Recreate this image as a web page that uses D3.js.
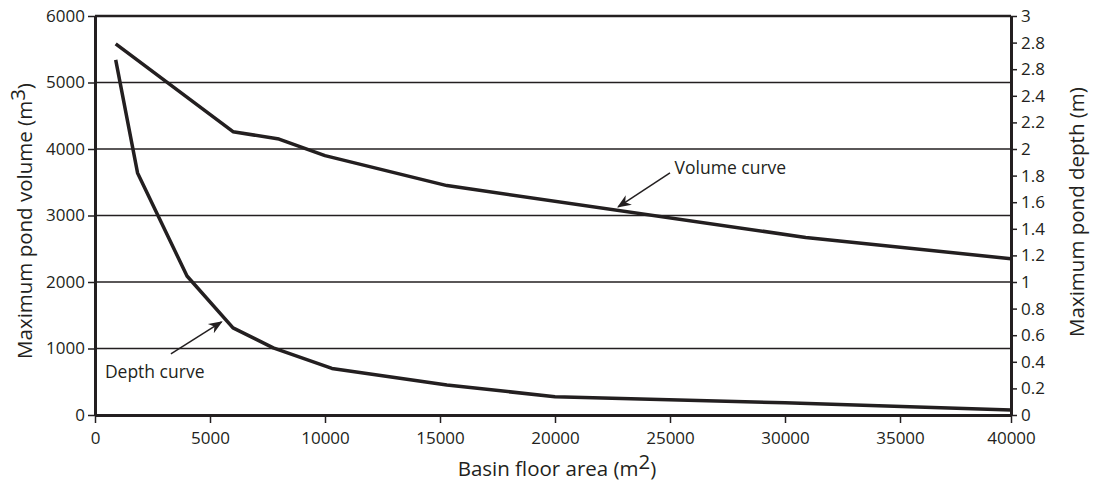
<!DOCTYPE html>
<html><head><meta charset="utf-8">
<script src="https://cdn.jsdelivr.net/npm/d3@7"></script>
<style>
body{margin:0;background:#fff}
svg{display:block}
text{font-family:"Open Sans",sans-serif;fill:#231f20}
</style>
</head><body>
<svg id="chart" width="1096" height="483"></svg>
<script>
// ---- data ----
const volumeArea = [900, 6000, 8000, 10000, 15300, 30900, 40000];
const volumeValues = [5580, 4260, 4150, 3900, 3450, 2670, 2350];
const depthArea = [900, 1850, 4000, 6000, 7750, 10300, 15300, 20000, 30000, 40000];
const depthValues = [2.67, 1.82, 1.045, 0.655, 0.505, 0.35, 0.225, 0.138, 0.092, 0.038];
const xTicks = [0, 5000, 10000, 15000, 20000, 25000, 30000, 35000, 40000];
const volumeTicks = [0, 1000, 2000, 3000, 4000, 5000, 6000];
const depthTicks = [0, 0.2, 0.4, 0.6, 0.8, 1, 1.2, 1.4, 1.6, 1.8, 2, 2.2, 2.4, 2.6, 2.8, 3];
const depthTickLabels = ["0","0.2","0.4","0.6","0.8","1","1.2","1.4","1.6","1.8","2","2.2","2.4","2.8","2.8","3"];
const gridValues = [1000, 2000, 3000, 4000, 5000];

const ink = "#231f20";
const svg = d3.select("#chart");
const L = 95, R = 1011, T = 16, B = 415;

const x = d3.scaleLinear().domain([0, 35000, 40000]).range([L, 900, R]);
const yV = d3.scaleLinear().domain([0, 6000]).range([B, T]);
const yD = d3.scaleLinear().domain([0, 3]).range([B, T]);

// markers
svg.append("defs").append("marker")
  .attr("id", "arr").attr("viewBox", "0 0 10 10").attr("refX", 9).attr("refY", 5)
  .attr("markerWidth", 14).attr("markerHeight", 14).attr("markerUnits", "userSpaceOnUse")
  .attr("orient", "auto")
  .append("path").attr("d", "M0,1 L10,5 L0,9 L3,5 Z").attr("fill", ink);

// gridlines
svg.append("g").selectAll("line").data(gridValues).join("line")
  .attr("x1", L).attr("x2", R).attr("y1", d => yV(d)).attr("y2", d => yV(d))
  .attr("stroke", ink).attr("stroke-width", 1.5);

// top frame line
svg.append("line").attr("x1", L).attr("x2", R).attr("y1", T).attr("y2", T)
  .attr("stroke", ink).attr("stroke-width", 2.5);

function styleAxis(g) {
  g.select(".domain").attr("stroke", ink).attr("stroke-width", 3);
  g.selectAll(".tick line").attr("stroke", ink).attr("stroke-width", 1.5);
  g.selectAll(".tick text").attr("fill", ink).style("font-size", "17px")
    .style("font-family", "'Open Sans', sans-serif");
}

svg.append("g").attr("transform", `translate(${L},0)`)
  .call(d3.axisLeft(yV).tickValues(volumeTicks).tickSize(7).tickSizeOuter(0).tickPadding(3)
    .tickFormat(d3.format("d")))
  .call(styleAxis);

svg.append("g").attr("transform", `translate(${R},0)`)
  .call(d3.axisRight(yD).tickValues(depthTicks).tickSize(6).tickSizeOuter(0).tickPadding(4)
    .tickFormat((d, i) => depthTickLabels[i]))
  .call(styleAxis);

svg.append("g").attr("transform", `translate(0,${B})`)
  .call(d3.axisBottom(x).tickValues(xTicks).tickSize(8).tickSizeOuter(0).tickPadding(9)
    .tickFormat(d3.format("d")))
  .call(styleAxis);

// curves
const volLine = d3.line().x((d, i) => x(volumeArea[i])).y(d => yV(d));
svg.append("path").datum(volumeValues).attr("d", volLine)
  .attr("fill", "none").attr("stroke", ink).attr("stroke-width", 3.5).attr("stroke-linejoin", "round");

const depLine = d3.line().x((d, i) => x(depthArea[i])).y(d => yD(d));
svg.append("path").datum(depthValues).attr("d", depLine)
  .attr("fill", "none").attr("stroke", ink).attr("stroke-width", 3.5).attr("stroke-linejoin", "round");

// annotations
svg.append("line").attr("x1", x(25000)).attr("y1", yV(3640)).attr("x2", x(22750)).attr("y2", yV(3130))
  .attr("stroke", ink).attr("stroke-width", 1.5).attr("marker-end", "url(#arr)");
svg.append("text").attr("x", x(25200)).attr("y", yV(3630)).attr("font-size", 17.5).text("Volume curve");

svg.append("line").attr("x1", x(3300)).attr("y1", yD(0.46)).attr("x2", x(5500)).attr("y2", yD(0.7))
  .attr("stroke", ink).attr("stroke-width", 1.5).attr("marker-end", "url(#arr)");
svg.append("text").attr("x", x(430)).attr("y", yV(560)).attr("font-size", 17.5).text("Depth curve");

// axis titles
const lt = svg.append("text").attr("transform", `translate(32,221) rotate(-90)`)
  .attr("text-anchor", "middle").attr("font-size", 20.5);
lt.append("tspan").text("Maximum pond volume (m");
lt.append("tspan").attr("dy", -7).text("3");
lt.append("tspan").attr("dy", 7).text(")");

const rt = svg.append("text").attr("transform", `translate(1084,212) rotate(-90)`)
  .attr("text-anchor", "middle").attr("font-size", 20.5);
rt.append("tspan").text("Maximum pond depth (m)");

const bt = svg.append("text").attr("x", 557).attr("y", 476)
  .attr("text-anchor", "middle").attr("font-size", 20.5);
bt.append("tspan").text("Basin floor area (m");
bt.append("tspan").attr("dy", -7).text("2");
bt.append("tspan").attr("dy", 7).text(")");
</script>
</body></html>
